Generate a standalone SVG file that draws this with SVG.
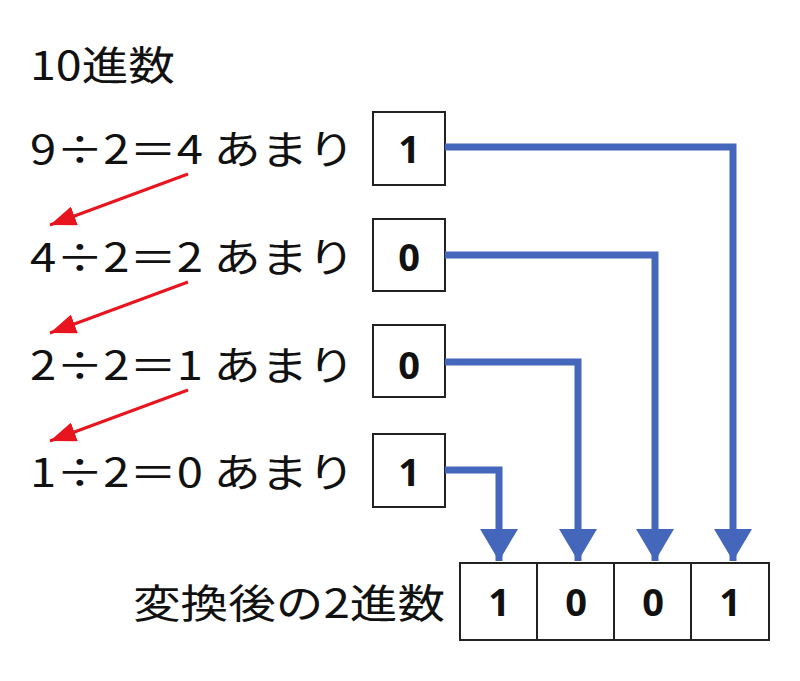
<svg xmlns="http://www.w3.org/2000/svg" width="800" height="681" viewBox="0 0 800 681">
<style>
text{font-family:"Noto Sans CJK JP","Noto Sans",sans-serif;font-size:40px;fill:#111}
.d{font-family:"Noto Sans",sans-serif;font-weight:bold;text-anchor:middle;font-size:38px}
.b{fill:#fff;stroke:#222;stroke-width:2}
.bl{fill:none;stroke:#4466bb;stroke-width:7}
.rd{stroke:#e8141e;stroke-width:3;fill:none}
</style>
<defs>
<marker id="ba" viewBox="0 0 32 38" refX="32" refY="19" markerWidth="32" markerHeight="38" orient="auto" markerUnits="userSpaceOnUse"><path d="M0,0L32,19L0,38z" fill="#4466bb"/></marker>
<marker id="rh" viewBox="0 0 26 20" refX="26" refY="10" markerWidth="26" markerHeight="20" orient="auto" markerUnits="userSpaceOnUse"><path d="M0,0L26,10L0,20z" fill="#e8141e"/></marker>
</defs>
<text x="30" y="80" textLength="145" lengthAdjust="spacingAndGlyphs">10進数</text>
<g id="r1"><text x="30" y="164" textLength="325" lengthAdjust="spacingAndGlyphs">9÷2＝4 あまり</text><rect class="b" x="373" y="112" width="72" height="73"/><text class="d" x="409" y="163">1</text></g>
<g id="r2"><text x="30" y="272" textLength="325" lengthAdjust="spacingAndGlyphs">4÷2＝2 あまり</text><rect class="b" x="373" y="219" width="72" height="72"/><text class="d" x="409" y="271">0</text></g>
<g id="r3"><text x="30" y="380" textLength="325" lengthAdjust="spacingAndGlyphs">2÷2＝1 あまり</text><rect class="b" x="373" y="325" width="72" height="72"/><text class="d" x="409" y="379">0</text></g>
<g id="r4"><text x="30" y="487" textLength="325" lengthAdjust="spacingAndGlyphs">1÷2＝0 あまり</text><rect class="b" x="373" y="434" width="72" height="73"/><text class="d" x="409" y="486">1</text></g>
<g id="result"><text x="133" y="618" textLength="312" lengthAdjust="spacingAndGlyphs">変換後の2進数</text>
<rect class="b" x="460" y="563" width="77" height="77"/><rect class="b" x="537" y="563" width="77" height="77"/><rect class="b" x="614" y="563" width="77" height="77"/><rect class="b" x="691" y="563" width="78" height="77"/>
<text class="d" x="499" y="616">1</text><text class="d" x="576" y="616">0</text><text class="d" x="653" y="616">0</text><text class="d" x="730" y="616">1</text></g>
<g id="connectors">
<path class="bl" d="M445,147H733V561" marker-end="url(#ba)"/>
<path class="bl" d="M445,255H655V561" marker-end="url(#ba)"/>
<path class="bl" d="M445,362H578V561" marker-end="url(#ba)"/>
<path class="bl" d="M445,470H499V561" marker-end="url(#ba)"/>
<path class="rd" d="M188,174L50,225" marker-end="url(#rh)"/>
<path class="rd" d="M188,282L50,333" marker-end="url(#rh)"/>
<path class="rd" d="M188,390L50,441" marker-end="url(#rh)"/>
</g>
</svg>
